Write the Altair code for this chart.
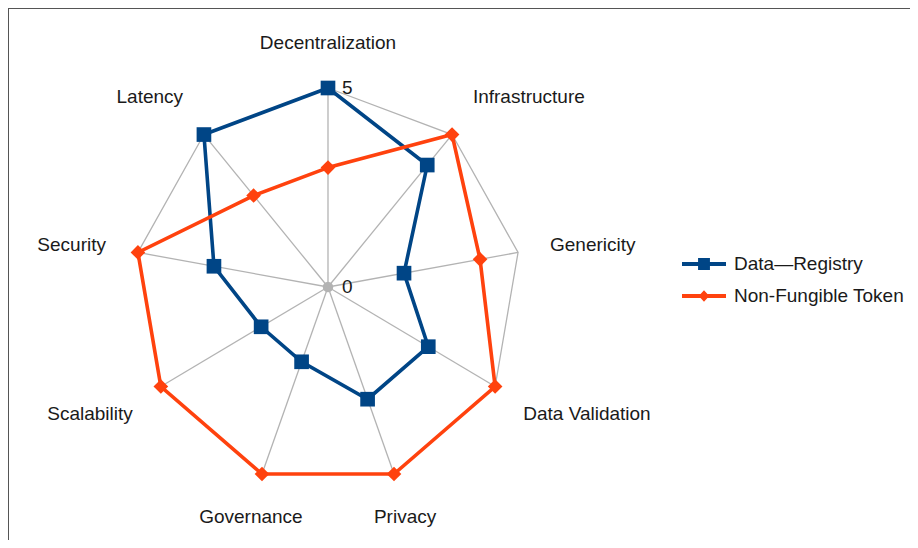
import math
import altair as alt
import pandas as pd

# ---- data ----
categories = ["Decentralization", "Infrastructure", "Genericity", "Data Validation",
              "Privacy", "Governance", "Scalability", "Security", "Latency"]
registry = [5, 4, 2, 3, 3, 2, 2, 3, 5]
nft = [3, 5, 4, 5, 5, 5, 5, 5, 3]
series_names = ["Data\u2014Registry", "Non-Fungible Token"]
series_colors = ["#004586", "#ff420e"]
axis_ticks = [0, 5]
r_max = 5

n = len(categories)
step = 2 * math.pi / n

rows = []
for s, vals in zip(series_names, [registry, nft]):
    for i in range(n + 1):
        k = i % n
        rows.append({"series": s, "category": categories[k], "idx": i, "value": vals[k]})
df = pd.DataFrame(rows)

grid_rows = [{"category": categories[i % n], "idx": i, "value": r_max} for i in range(n + 1)]
grid_df = pd.DataFrame(grid_rows)
cat_df = pd.DataFrame({"category": categories, "idx": list(range(n)), "value": [r_max] * n})
tick_df = pd.DataFrame({"value": axis_ticks, "label": [str(t) for t in axis_ticks]})

W, H = 902, 532
xs = alt.Scale(domain=[-8.290, 15.078], nice=False, zero=False)
ys = alt.Scale(domain=[-6.357, 7.010], nice=False, zero=False)
X = alt.X("x:Q", scale=xs, axis=None)
Y = alt.Y("y:Q", scale=ys, axis=None)

ang = f"datum.idx * {step}"
polar = dict(x=f"datum.value * sin({ang})", y=f"datum.value * cos({ang})")

FONT = "Liberation Sans"
FS = 19
TXT = "#1a1a1a"
GRID = "#b3b3b3"

spokes = alt.Chart(cat_df).transform_calculate(**polar, x0="0", y0="0").mark_rule(
    color=GRID, strokeWidth=1.3
).encode(x=alt.X("x0:Q", scale=xs, axis=None), y=alt.Y("y0:Q", scale=ys, axis=None),
         x2="x:Q", y2="y:Q")

web = alt.Chart(grid_df).transform_calculate(**polar).mark_line(
    color=GRID, strokeWidth=1.3
).encode(x=X, y=Y, order="idx:Q")

center = alt.Chart(tick_df).transform_filter("datum.value == 0").transform_calculate(
    x="0", y="datum.value").mark_circle(color=GRID, size=110, opacity=1).encode(x=X, y=Y)

color_nolegend = alt.Color("series:N", scale=alt.Scale(domain=series_names, range=series_colors),
                           legend=None)

lines = alt.Chart(df).transform_calculate(**polar).mark_line(strokeWidth=3.6).encode(
    x=X, y=Y, color=color_nolegend, order="idx:Q", detail="series:N")

points = alt.Chart(df).transform_filter(f"datum.idx < {n}").transform_calculate(**polar).mark_point(
    filled=True, opacity=1, size=215).encode(
    x=X, y=Y, color=color_nolegend,
    shape=alt.Shape("series:N", scale=alt.Scale(domain=series_names, range=["square", "diamond"]),
                    legend=None))

lab_polar = dict(
    x=f"5.84 * sin({ang})",
    y=(f"6.16 * cos({ang}) + (cos({ang}) > 0.5 && cos({ang}) < 0.9 ? 0.07 : 0)"
       f" + (cos({ang}) < -0.3 && cos({ang}) > -0.9 ? -0.08 : 0)"
       f" + (cos({ang}) < -0.9 ? 0.04 : 0)"),
)
lab_base = alt.Chart(cat_df).transform_calculate(**lab_polar, c=f"cos({ang})", s=f"sin({ang})")
lab_center = lab_base.transform_filter("abs(datum.c) > 0.9").mark_text(
    align="center", baseline="middle", dy=1, font=FONT, fontSize=FS, color=TXT).encode(
    x=X, y=Y, text="category:N")
lab_left = lab_base.transform_filter("abs(datum.c) <= 0.9 && datum.s > 0").mark_text(
    align="left", baseline="middle", dy=1, font=FONT, fontSize=FS, color=TXT).encode(
    x=X, y=Y, text="category:N")
lab_right = lab_base.transform_filter("abs(datum.c) <= 0.9 && datum.s < 0").mark_text(
    align="right", baseline="middle", dy=1, font=FONT, fontSize=FS, color=TXT).encode(
    x=X, y=Y, text="category:N")

ticks = alt.Chart(tick_df).transform_calculate(x="0", y="datum.value").mark_text(
    align="left", baseline="middle", dx=14, font=FONT, fontSize=FS, color=TXT).encode(
    x=X, y=Y, text="label:N")

sq_path = "M-1,-0.09H1V0.09H-1Z M-0.27,-0.27H0.27V0.27H-0.27Z"
di_path = "M-1,-0.09H1V0.09H-1Z M0,-0.26L0.24,0L0,0.26L-0.24,0Z"
leg = dict(title=None, orient="none", legendX=674, legendY=234, symbolSize=1936,
           labelFont=FONT, labelFontSize=FS, labelColor=TXT, labelOffset=8, labelLimit=400,
           rowPadding=-4, symbolStrokeWidth=0, symbolOpacity=1)
legend_layer = alt.Chart(df).transform_filter("false").transform_calculate(**polar).mark_point(
    filled=True, opacity=1).encode(
    x=X, y=Y,
    color=alt.Color("series:N", scale=alt.Scale(domain=series_names, range=series_colors),
                    legend=alt.Legend(**leg)),
    shape=alt.Shape("series:N", scale=alt.Scale(domain=series_names, range=[sq_path, di_path]),
                    legend=alt.Legend(**leg)))

frame_df = pd.DataFrame({"a": [0]})
frame_left = alt.Chart(frame_df).mark_rule(color="#555555", strokeWidth=1).encode(
    x=alt.value(0.5), y=alt.value(0), y2=alt.value(H))
frame_top = alt.Chart(frame_df).mark_rule(color="#555555", strokeWidth=1).encode(
    y=alt.value(0.5), x=alt.value(0), x2=alt.value(W))

chart = alt.layer(
    frame_left, frame_top, spokes, web, center, lines, points,
    lab_center, lab_left, lab_right, ticks, legend_layer
).resolve_scale(color="independent", shape="independent").properties(
    width=W, height=H, padding=0, autosize=alt.AutoSizeParams(type="none"),
    background="white"
).configure_view(stroke=None)

chart.save("out.html", embed_options={"renderer": "svg", "actions": False})
